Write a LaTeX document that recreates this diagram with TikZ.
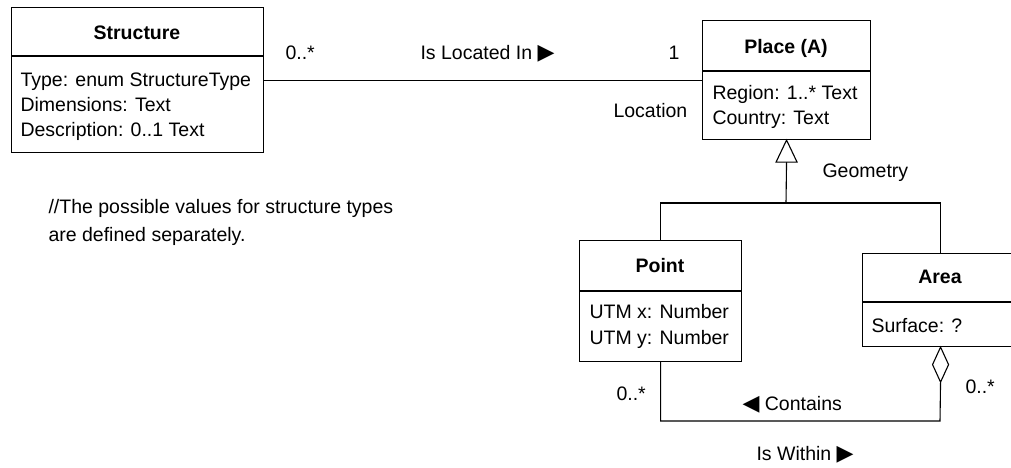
\documentclass[tikz,border=0pt]{standalone}
\usepackage{fontspec}
\setmainfont{Liberation Sans}
\newfontfamily\symfont{DejaVu Sans}
\usetikzlibrary{calc}
\newcommand\dgsize{\fontsize{19.5}{24.5}\selectfont}
\newcommand\rtri{{\symfont\fontsize{22}{24}\selectfont ▶}}
\newcommand\ltri{{\symfont\fontsize{22}{24}\selectfont ◀}}

\begin{document}
\begin{tikzpicture}[x=1pt,y=-1pt,line width=1.1pt,
  every node/.style={inner sep=0pt,font=\dgsize},
  classbox/.style={draw,anchor=north west},
  title/.style={anchor=base,font=\dgsize\bfseries},
  attr/.style={anchor=base west},
  lbl/.style={anchor=base west},
  hollow/.style={draw,fill=white,line join=miter}]
\useasboundingbox (0,0) rectangle (1011,467);

% Structure
\node[classbox,minimum width=252pt,minimum height=145pt] (structure) at (11,7) {};
\draw (11,56) -- (263,56);
\node[title] (structuretitle) at (137,39) {Structure};
\node[attr] (sa1) at (20,86) {Type: enum StructureType};
\node[attr] (sa2) at (20,111) {Dimensions: Text};
\node[attr] (sa3) at (20,136) {Description: 0..1 Text};

% Place (A)
\node[classbox,minimum width=168pt,minimum height=119pt] (place) at (702,20) {};
\draw (702,71) -- (870,71);
\node[title] (placetitle) at (786,53) {Place (A)};
\node[attr] (pa1) at (712,99) {Region: 1..* Text};
\node[attr] (pa2) at (712,124) {Country: Text};

% Point
\node[classbox,minimum width=162pt,minimum height=121pt] (point) at (579,240) {};
\draw (579,291) -- (741,291);
\node[title] (pointtitle) at (660,272) {Point};
\node[attr] (pt1) at (589,318) {UTM x: Number};
\node[attr] (pt2) at (589,344) {UTM y: Number};

% Area
\node[classbox,minimum width=156pt,minimum height=93pt] (area) at (862,253) {};
\draw (862,302) -- (1018,302);
\node[title] (areatitle) at (940,283) {Area};
\node[attr] (ar1) at (871,332) {Surface: ?};

% Association Structure -- Place
\draw (structure.east) -- (place.west);
\node[lbl] (m1) at (285,59) {0..*};
\node[lbl] (assoc) at (420,59) {Is Located In \rtri};
\node[lbl] (m2) at (668,59) {1};
\node[lbl] (role) at (613,117) {Location};

% Generalization: hollow triangle under Place
\coordinate (gen) at (786,203);
\coordinate (genbase) at ($(place.south)+(0,22)$);
\draw (point.north) |- (gen) -| (area.north);
\draw (gen) -- (genbase);
\draw[hollow] (place.south) -- ++(10.5,22) -- ++(-21,0) -- cycle;
\node[lbl] (geom) at (822,177) {Geometry};

% Aggregation Area -- Point: hollow diamond under Area
\coordinate (aggtip) at ($(area.south)+(0,35)$);
\coordinate (aggcorner) at (940,421);
\draw (aggtip) -- (aggcorner) -| (point.south);
\draw[hollow] (area.south) -- ++(8,17.5) -- ++(-8,17.5) -- ++(-8,-17.5) -- cycle;
\node[lbl] (m3) at (616,400) {0..*};
\node[lbl] (m4) at (965,393) {0..*};
\node[lbl] (contains) at (742,410) {\ltri\ Contains};
\node[lbl] (within) at (756,460) {Is Within \rtri};

% Note
\node[lbl] (note1) at (48,213) {//The possible values for structure types};
\node[lbl] (note2) at (48,241) {are defined separately.};
\end{tikzpicture}
\end{document}
